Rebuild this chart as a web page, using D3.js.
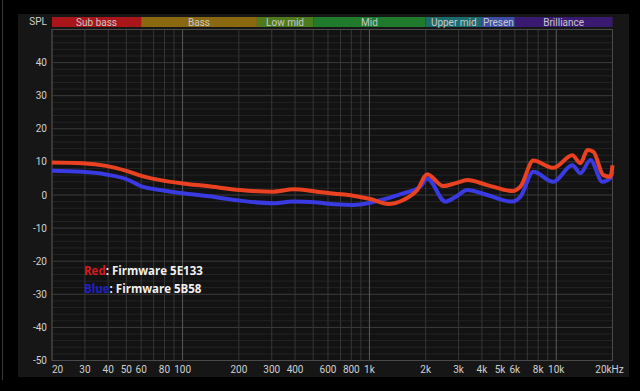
<!DOCTYPE html>
<html><head><meta charset="utf-8">
<script src="https://cdn.jsdelivr.net/npm/d3@7"></script>
<style>html,body{margin:0;padding:0;background:#000;}svg{display:block;}</style>
</head><body>
<svg id="c" width="640" height="391"></svg>
<script>
// ---- data ----
const freqsRed = [20,29,39,50,61,76,100,135,203,305,391,525,650,818,1010,1260,1518,1803,2040,2483,2900,3340,4276,5820,6426,7540,9645,12190,13460,14690,15800,17860,19500,20000];
const splRed   = [9.8,9.6,8.8,7.3,5.7,4.5,3.5,2.7,1.5,1.0,1.7,1.0,0.4,-0.2,-1.2,-2.7,-1.5,1.5,6.3,2.7,3.6,4.5,3.0,1.2,2.5,10.4,8.2,12.0,9.6,13.6,13.1,6.0,5.5,9.0];
const freqsBlue = [20,29,39,50,61,76,100,135,203,305,391,525,650,818,1101,1518,1870,2040,2548,2900,3340,4276,5820,6426,7540,9645,12190,13460,15240,17660,19500,20000];
const splBlue   = [7.3,7.0,6.2,4.8,2.5,1.5,0.5,-0.3,-1.7,-2.5,-2.0,-2.3,-2.8,-3.0,-1.8,0.5,2.5,5.0,-2.0,-0.5,1.5,0.0,-2.0,-0.5,7.0,4.0,9.0,6.6,10.6,4.0,5.1,7.0];
const bandNames = ["Sub bass","Bass","Low mid","Mid","Upper mid","Presen","Brilliance"];
const bandEdges = [20,60,250,500,2000,4000,6000,20000];
const bandColors = ["#a8161a","#8a6810","#4d7a1c","#1f7a2c","#1b6b6c","#3b4da6","#3a1a70"];
const yTicks = [40,30,20,10,0,-10,-20,-30,-40,-50];
const xTickVals = [20,30,40,50,60,80,100,200,300,400,600,800,1000,2000,3000,4000,5000,6000,8000,10000,20000];
const xTickLabels = ["20","30","40","50","60","80","100","200","300","400","600","800","1k","2k","3k","4k","5k","6k","8k","10k","20kHz"];
const legend = [{c:"Red",col:"#d41a1a",t:": Firmware 5E133"},{c:"Blue",col:"#2020c8",t:": Firmware 5B58"}];

const svg = d3.select("#c");
const L=52, R=612.5, T=29.5, B=360.5;
const x = d3.scaleLog().domain([20,20000]).range([L,R]);
const y = d3.scaleLinear().domain([-50,50]).range([B,T]);

// panel
svg.append("rect").attr("x",0).attr("y",0).attr("width",640).attr("height",391).attr("fill","#000");
svg.append("line").attr("x1",2.5).attr("x2",2.5).attr("y1",0).attr("y2",380).attr("stroke","#3a3a3a");
svg.append("rect").attr("x",18).attr("y",14).attr("width",611).attr("height",363).attr("fill","#161616");
svg.append("rect").attr("x",L).attr("y",T).attr("width",R-L).attr("height",B-T).attr("fill","#121212");

// grid
const minorY = d3.range(-50,51,2);
svg.append("g").selectAll("line").data(minorY).join("line")
  .attr("x1",L).attr("x2",R).attr("y1",d=>y(d)).attr("y2",d=>y(d))
  .attr("stroke",d=>d%10===0?"#3c3c3c":"#242424").attr("stroke-width",1);
const vLines=[];
[10,100,1000,10000].forEach(dec=>{for(let m=1;m<10;m++){const f=dec*m;if(f>=20&&f<=20000)vLines.push(f);}});
vLines.push(20000);
svg.append("g").selectAll("line").data(vLines).join("line")
  .attr("x1",d=>x(d)).attr("x2",d=>x(d)).attr("y1",T).attr("y2",B)
  .attr("stroke",d=>[100,1000,10000].includes(d)?"#5a5a5a":"#363636").attr("stroke-width",1);
svg.append("rect").attr("x",L).attr("y",T).attr("width",R-L).attr("height",B-T)
  .attr("fill","none").attr("stroke","#4a4a4a");

// bands
const bg = svg.append("g");
bandNames.forEach((n,i)=>{
  const x0=x(bandEdges[i]), x1=x(bandEdges[i+1]);
  bg.append("rect").attr("x",x0).attr("y",17).attr("width",x1-x0).attr("height",10).attr("fill",bandColors[i]);
  bg.append("text").attr("x",(x0+x1)/2).attr("y",25.5).attr("text-anchor","middle")
    .attr("font-family","Roboto, 'DejaVu Sans', sans-serif").attr("font-size",10)
    .attr("fill","#c8c8c8").text(n);
});
svg.append("text").attr("x",47).attr("y",25).attr("text-anchor","end").attr("font-family","Roboto, sans-serif")
  .attr("font-size",10).attr("fill","#d0d0d0").text("SPL");

// y labels
svg.append("g").selectAll("text").data(yTicks).join("text")
  .attr("x",47).attr("y",d=>y(d)+3.5).attr("text-anchor","end")
  .attr("font-family","Roboto, sans-serif").attr("font-size",10).attr("fill","#d0d0d0").text(d=>d);
// x labels
svg.append("g").selectAll("text").data(xTickVals).join("text")
  .attr("x",(d,i)=>x(d)+(i===xTickVals.length-1?-3:0)).attr("y",373).attr("text-anchor",(d,i)=>i===0?"start":"middle")
  .attr("font-family","Roboto, sans-serif").attr("font-size",10).attr("fill","#d0d0d0").text((d,i)=>xTickLabels[i]);

// curves
const line = d3.line().x(d=>x(d[0])).y(d=>y(d[1])).curve(d3.curveMonotoneX);
svg.append("path").datum(freqsBlue.map((f,i)=>[f,splBlue[i]])).attr("d",line)
  .attr("fill","none").attr("stroke","#3a3ae2").attr("stroke-width",4).attr("stroke-linejoin","round");
svg.append("path").datum(freqsRed.map((f,i)=>[f,splRed[i]])).attr("d",line)
  .attr("fill","none").attr("stroke","#ea4220").attr("stroke-width",4).attr("stroke-linejoin","round");

// legend
legend.forEach((l,i)=>{
  const t = svg.append("text").attr("x",84).attr("y",275+i*17.5)
    .attr("font-family","'Open Sans', 'DejaVu Sans', sans-serif").attr("font-weight","bold").attr("font-size",11.5);
  t.append("tspan").attr("fill",l.col).text(l.c);
  t.append("tspan").attr("fill","#f0f0f0").text(l.t);
});
</script>
</body></html>
